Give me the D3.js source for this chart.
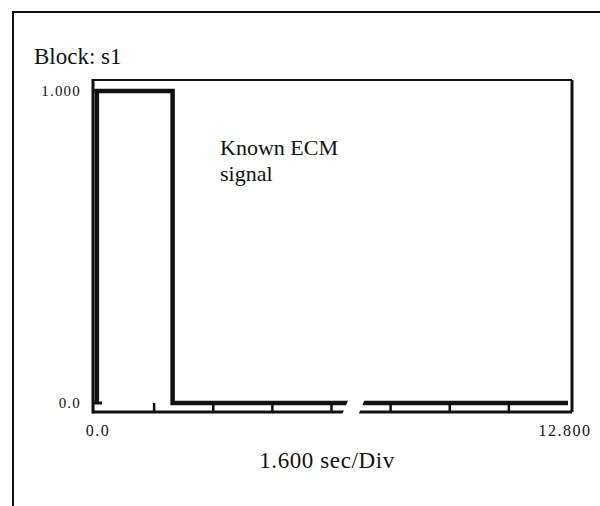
<!DOCTYPE html>
<html><head><meta charset="utf-8">
<script src="https://cdn.jsdelivr.net/npm/d3@7"></script>
<style>body{margin:0;background:#fff}svg{display:block}text{font-family:"Liberation Serif","DejaVu Serif",serif;fill:#111}</style>
</head><body><svg id="c" width="600" height="506"></svg>
<script>
const title = "Block: s1";
const annotation = ["Known ECM", "signal"];
const xLabel = "1.600 sec/Div";
const yTickValues = [0, 1];
const yTickLabels = ["0.0", "1.000"];
const xTickValues = [0, 12.8];
const xTickLabels = ["0.0", "12.800"];
const divisions = [1.6, 3.2, 4.8, 6.4, 8.0, 9.6, 11.2];
const signalTime = [0.05, 0.05, 2.1, 2.1, 12.8];
const signalValue = [0, 1, 1, 0, 0];
const breakRange = [6.78, 7.22];

const svg = d3.select("#c");
const x = d3.scaleLinear().domain([0, 12.8]).range([95, 568]);
const y = d3.scaleLinear().domain([0, 1]).range([403, 91]);
const L = 93, R = 572, T = 80, B = 412;

// outer frame
svg.append("path").attr("d", `M13,506 L13,12 L600,12`).attr("fill","none").attr("stroke","#111").attr("stroke-width",2);

// plot frame
svg.append("line").attr("x1",L).attr("x2",R).attr("y1",T).attr("y2",T).attr("stroke","#111").attr("stroke-width",2);
svg.append("line").attr("x1",R).attr("x2",R).attr("y1",T).attr("y2",B).attr("stroke","#111").attr("stroke-width",3);
svg.append("line").attr("x1",L).attr("x2",L).attr("y1",T-1).attr("y2",B+1.5).attr("stroke","#111").attr("stroke-width",3);
svg.append("line").attr("x1",L).attr("x2",R).attr("y1",B).attr("y2",B).attr("stroke","#111").attr("stroke-width",3);

// division ticks
svg.append("g").selectAll("line").data(divisions).join("line")
  .attr("x1",d=>x(d)).attr("x2",d=>x(d)).attr("y1",B).attr("y2",y(0))
  .attr("stroke","#111").attr("stroke-width",2.5);

// y ticks
svg.append("g").selectAll("line").data(yTickValues).join("line")
  .attr("x1",L).attr("x2",L+9).attr("y1",d=>y(d)).attr("y2",d=>y(d))
  .attr("stroke","#111").attr("stroke-width",3);

// signal
const pts = signalTime.map((t,i)=>[t, signalValue[i]]);
svg.append("path").datum(pts)
  .attr("d", d3.line().x(d=>x(d[0])).y(d=>y(d[1])))
  .attr("fill","none").attr("stroke","#111").attr("stroke-width",4.5).attr("stroke-linejoin","miter");

// axis break
const bx0 = x(breakRange[0]), bx1 = x(breakRange[1]);
svg.append("path")
  .attr("d", `M${bx0+4},${y(0)-6} L${bx1+4},${y(0)-6} L${bx1-4},${B+4} L${bx0-4},${B+4} Z`)
  .attr("fill","#fff");

// labels
svg.append("text").attr("x",34).attr("y",64).attr("font-size",23).text(title);
svg.append("g").selectAll("text").data(yTickValues).join("text")
  .attr("x",81).attr("y",d=>y(d)+5).attr("text-anchor","end").attr("font-size",15).attr("letter-spacing",1.2)
  .text((d,i)=>yTickLabels[i]);
svg.append("g").selectAll("text").data(xTickValues).join("text")
  .attr("x",(d,i)=> i===0 ? x(d)+3 : x(d)-3).attr("y",436).attr("text-anchor","middle").attr("font-size",16)
  .attr("letter-spacing",1.5)
  .text((d,i)=>xTickLabels[i]);
svg.append("text").attr("x",327).attr("y",468).attr("text-anchor","middle").attr("font-size",23).attr("letter-spacing",0.6).text(xLabel);
svg.append("text").attr("x",220).attr("y",155).attr("font-size",22)
  .selectAll("tspan").data(annotation).join("tspan")
  .attr("x",220).attr("dy",(d,i)=>i===0?0:26).text(d=>d);
</script></body></html>
